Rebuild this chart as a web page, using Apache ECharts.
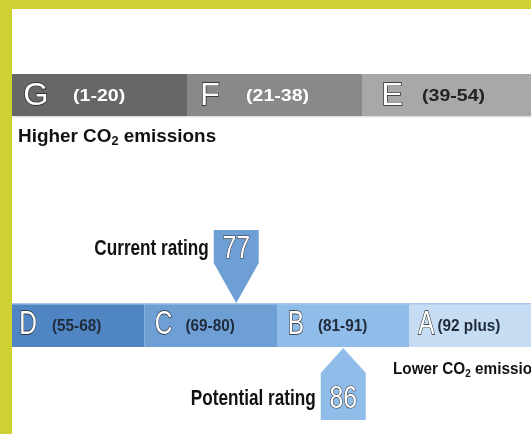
<!DOCTYPE html>
<html>
<head>
<meta charset="utf-8">
<script src="https://cdn.jsdelivr.net/npm/echarts@6/dist/echarts.min.js"></script>
<style>
  html, body { margin: 0; padding: 0; background: #fff; }
  #main { width: 531px; height: 434px; }
</style>
</head>
<body>
<div id="main"></div>
<script>
// rating bands, upper row (higher CO2)
var topBands = ['G', 'F', 'E'];
var topRanges = ['(1-20)', '(21-38)', '(39-54)'];
var topColors = ['#676767', '#898989', '#a8a8a8'];
var topRangeColors = ['#fff', '#fff', '#222'];

// lower row (lower CO2)
var bottomBands = ['D', 'C', 'B', 'A'];
var bottomRanges = ['(55-68)', '(69-80)', '(81-91)', '(92 plus)'];
var bottomLo = [55, 69, 81, 92];
var bottomHi = [68, 80, 91, 100];
var bottomColors = ['#4f85c2', '#6d9fd5', '#8fbce8', '#c6dcf2'];

var currentRating = 77;
var potentialRating = 86;

var fam = '"Liberation Sans", Arial, sans-serif';

// the picture is a crop: each row shows only part of its last band
var plotW = 531 - 12;
var topBandPx = 175;
var bottomBandPx = 132.5;

// rating -> position on the lower row axis
function ratingPos(r) {
    for (var i = 0; i < bottomLo.length; i++) {
        if (r >= bottomLo[i] && r <= bottomHi[i]) {
            return i + (r - bottomLo[i] + 1) / (bottomHi[i] - bottomLo[i] + 2);
        }
    }
    return 0;
}

var myChart = echarts.init(document.getElementById('main'));

function bandSeries(idx, names, ranges, colors, rangeColors, opt) {
    return {
        type: 'custom',
        xAxisIndex: idx,
        yAxisIndex: idx,
        data: names.map(function (n, i) { return [i, i + 1]; }),
        renderItem: function (params, api) {
            var i = params.dataIndex;
            var p0 = api.coord([api.value(0), 1]);
            var p1 = api.coord([api.value(1), 0]);
            var cy = (p0[1] + p1[1]) / 2;
            return {
                type: 'group',
                children: [
                    {
                        type: 'rect',
                        shape: { x: p0[0], y: p0[1], width: p1[0] - p0[0], height: p1[1] - p0[1] },
                        style: { fill: colors[i] }
                    },
                    {
                        type: 'rect',
                        shape: { x: p0[0], y: opt.lineTop ? p0[1] : p1[1], width: p1[0] - p0[0], height: 1.5 },
                        style: { fill: opt.lineColor }
                    },
                    {
                        type: 'text',
                        x: p0[0] + opt.letterX[i], y: cy + opt.letterDy,
                        scaleX: opt.letterScale,
                        style: {
                            text: names[i], fill: '#fff', stroke: '#222', lineWidth: 1.3,
                            font: opt.letterFont, align: 'center', verticalAlign: 'middle'
                        }
                    },
                    {
                        type: 'text',
                        x: p0[0] + opt.rangeX[i], y: cy + 1,
                        scaleX: opt.rangeScale,
                        style: {
                            text: ranges[i], fill: rangeColors ? rangeColors[i] : '#1f2a3a',
                            font: opt.rangeFont, align: 'left', verticalAlign: 'middle'
                        }
                    }
                ]
            };
        }
    };
}

function markerSeries() {
    var marks = [
        { value: [ratingPos(currentRating)], num: String(currentRating), label: 'Current rating', down: true, color: '#6d9fd5' },
        { value: [ratingPos(potentialRating)], num: String(potentialRating), label: 'Potential rating', down: false, color: '#8fbce8' }
    ];
    return {
        type: 'custom',
        xAxisIndex: 1,
        yAxisIndex: 1,
        z: 5,
        data: marks,
        renderItem: function (params, api) {
            var m = marks[params.dataIndex];
            var tip = api.coord([api.value(0), m.down ? 1 : 0]);
            var x = tip[0], y = tip[1], hw = 22.5, pts, numY, labY;
            if (m.down) {
                pts = [[x, y], [x + hw, y - 40], [x + hw, y - 73], [x - hw, y - 73], [x - hw, y - 40]];
                numY = y - 54; labY = y - 54;
            } else {
                pts = [[x, y + 1], [x + hw, y + 26], [x + hw, y + 73], [x - hw, y + 73], [x - hw, y + 26]];
                numY = y + 52; labY = y + 52;
            }
            return {
                type: 'group',
                children: [
                    { type: 'polygon', shape: { points: pts }, style: { fill: m.color } },
                    {
                        type: 'text', x: x, y: numY, scaleX: 0.8,
                        style: {
                            text: m.num, fill: '#fff', stroke: '#333', lineWidth: 1.2,
                            font: 'normal 31px ' + fam, align: 'center', verticalAlign: 'middle'
                        }
                    },
                    {
                        type: 'text', x: x - hw - 5, y: labY, scaleX: 0.78,
                        style: {
                            text: m.label, fill: '#111', font: 'bold 22px ' + fam,
                            align: 'right', verticalAlign: 'middle'
                        }
                    }
                ]
            };
        }
    };
}

var option = {
    animation: false,
    grid: [
        { left: 12, top: 74, width: plotW, height: 42 },
        { left: 12, top: 303, width: plotW, height: 44 }
    ],
    xAxis: [
        { gridIndex: 0, type: 'value', min: 0, max: plotW / topBandPx, show: false },
        { gridIndex: 1, type: 'value', min: 0, max: plotW / bottomBandPx, show: false }
    ],
    yAxis: [
        { gridIndex: 0, type: 'value', min: 0, max: 1, show: false },
        { gridIndex: 1, type: 'value', min: 0, max: 1, show: false }
    ],
    graphic: [
        { type: 'rect', left: 0, top: 0, shape: { width: 531, height: 9 }, style: { fill: '#cdd131' } },
        { type: 'rect', left: 0, top: 0, shape: { width: 12, height: 434 }, style: { fill: '#cdd131' } },
        {
            type: 'text', x: 18, y: 127, scaleX: 1.05,
            style: {
                text: '{m|Higher CO}{s|2}{m| emissions}',
                rich: {
                    m: { font: 'bold 18px ' + fam, fill: '#111' },
                    s: { font: 'bold 12px ' + fam, fill: '#111', padding: [9, 0, 0, 0] }
                }
            }
        },
        {
            type: 'text', x: 393, y: 360, scaleX: 0.9,
            style: {
                text: '{m|Lower CO}{s|2}{m| emissions}',
                rich: {
                    m: { font: 'bold 17px ' + fam, fill: '#111' },
                    s: { font: 'bold 11px ' + fam, fill: '#111', padding: [8, 0, 0, 0] }
                }
            }
        }
    ],
    series: [
        bandSeries(0, topBands, topRanges, topColors, topRangeColors, {
            letterX: [24, 23, 30], letterDy: 1, letterScale: 1.05,
            rangeX: [61, 59, 60], rangeScale: 1.15,
            lineTop: false, lineColor: '#e2e2e2',
            letterFont: 'normal 31px ' + fam, rangeFont: 'bold 17px ' + fam
        }),
        bandSeries(1, bottomBands, bottomRanges, bottomColors, null, {
            letterX: [16, 19, 19, 17], letterDy: 0, letterScale: 0.72,
            rangeX: [40, 41, 41, 28], rangeScale: 0.9,
            lineTop: true, lineColor: '#a8c7ea',
            letterFont: 'normal 34px ' + fam, rangeFont: 'bold 17px ' + fam
        }),
        markerSeries()
    ]
};
myChart.setOption(option);
window.onresize = myChart.resize;
</script>
</body>
</html>
